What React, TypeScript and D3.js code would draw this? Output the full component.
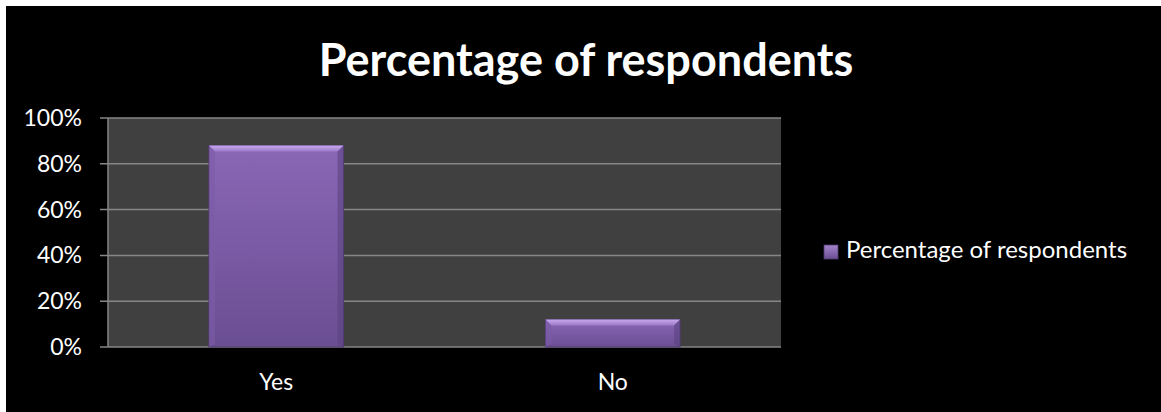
import React from "react";
import * as d3 from "d3";

const categories = ["Yes", "No"];
const values = [0.88, 0.12];
const yTicks = [0, 0.2, 0.4, 0.6, 0.8, 1.0];
const seriesName = "Percentage of respondents";
const title = "Percentage of respondents";

const W = 1161;
const H = 412;
const plot = { left: 108, right: 781, top: 118, bottom: 347 };
const FONT = "Lato, 'Open Sans', sans-serif";

export default function App() {
  const x = d3
    .scaleBand<string>()
    .domain(categories)
    .range([plot.left, plot.right])
    .paddingInner(0.6)
    .paddingOuter(0.3);
  const y = d3.scaleLinear().domain([0, 1]).range([plot.bottom, plot.top]);
  const fmt = d3.format(".0%");
  const bevel = 6;

  return (
    <svg
      width={W}
      height={H}
      style={{ position: "absolute", left: 0, top: 0, display: "block" }}
    >
      <defs>
        <linearGradient id="barBody" x1="0" y1="0" x2="0" y2="1">
          <stop offset="0" stopColor="#8a67b6" />
          <stop offset="1" stopColor="#6a4e92" />
        </linearGradient>
        <linearGradient id="barTop" x1="0" y1="0" x2="0" y2="1">
          <stop offset="0" stopColor="#c8a8ee" />
          <stop offset="1" stopColor="#9c7bc8" />
        </linearGradient>
        <linearGradient id="legSq" x1="0" y1="0" x2="0" y2="1">
          <stop offset="0" stopColor="#a284cc" />
          <stop offset="1" stopColor="#6a4e92" />
        </linearGradient>
      </defs>
      <rect x={0} y={0} width={W} height={H} fill="#ffffff" />
      <rect x={6} y={6} width={W - 6} height={H - 6} fill="#000000" />
      <text
        x={586}
        y={76}
        textAnchor="middle"
        fill="#ffffff"
        fontFamily={FONT}
        fontWeight="bold"
        fontSize={45}
      >
        {title}
      </text>
      <rect
        x={plot.left}
        y={plot.top}
        width={plot.right - plot.left}
        height={plot.bottom - plot.top}
        fill="#404040"
      />
      {yTicks.map((t) => (
        <g key={t}>
          <line
            x1={plot.left - 8}
            x2={plot.right}
            y1={y(t)}
            y2={y(t)}
            stroke="#868686"
            strokeWidth={1.5}
          />
          <text
            x={82}
            y={y(t)}
            dy="0.35em"
            textAnchor="end"
            fill="#ffffff"
            fontFamily={FONT}
            fontSize={23}
          >
            {fmt(t)}
          </text>
        </g>
      ))}
      <line
        x1={plot.left}
        x2={plot.left}
        y1={plot.top}
        y2={plot.bottom}
        stroke="#868686"
        strokeWidth={1.5}
      />
      {categories.map((c, i) => {
        const bx = x(c)!;
        const bw = x.bandwidth();
        const by = y(values[i]);
        const bh = plot.bottom - by;
        return (
          <g key={c}>
            <rect x={bx} y={by} width={bw} height={bh} fill="url(#barBody)" stroke="#4e3a6c" strokeWidth={1} />
            <polygon
              points={`${bx},${by} ${bx + bw},${by} ${bx + bw - bevel},${by + bevel} ${bx + bevel},${by + bevel}`}
              fill="url(#barTop)"
            />
            <polygon
              points={`${bx},${by} ${bx + bevel},${by + bevel} ${bx + bevel},${by + bh - 3} ${bx},${by + bh}`}
              fill="#7b5ca6"
              opacity={0.6}
            />
            <polygon
              points={`${bx + bw},${by} ${bx + bw - bevel},${by + bevel} ${bx + bw - bevel},${by + bh - 3} ${bx + bw},${by + bh}`}
              fill="#5a4380"
              opacity={0.6}
            />
            <text
              x={bx + bw / 2}
              y={390}
              textAnchor="middle"
              fill="#ffffff"
              fontFamily={FONT}
              fontSize={23}
            >
              {c}
            </text>
          </g>
        );
      })}
      <rect x={824} y={245} width={14} height={14} fill="url(#legSq)" stroke="#4e3a6c" strokeWidth={0.8} />
      <text
        x={846}
        y={258}
        fill="#ffffff"
        fontFamily={FONT}
        fontSize={24}
      >
        {seriesName}
      </text>
    </svg>
  );
}
